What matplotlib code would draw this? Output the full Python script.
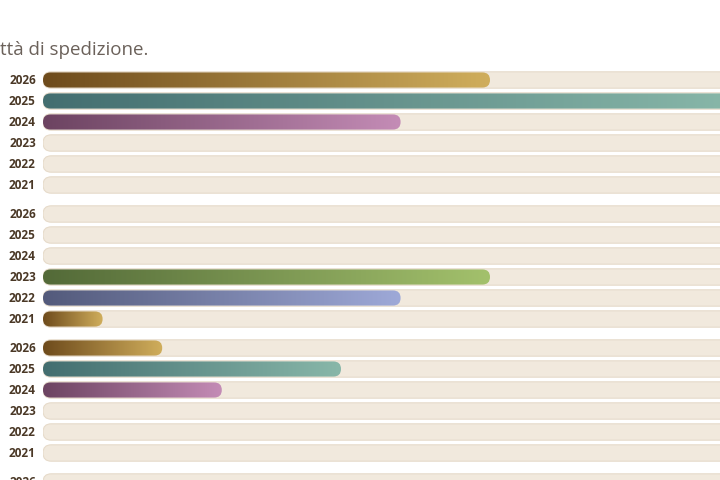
import numpy as np
import matplotlib.pyplot as plt
from matplotlib.patches import FancyBboxPatch
from matplotlib.colors import LinearSegmentedColormap

plt.rcParams['font.family'] = ['Open Sans', 'DejaVu Sans']

# data (rows of each group, top to bottom)
years = ["2026", "2025", "2024", "2023", "2022", "2021"]
group1 = [7.5, 11.6, 6.0, 0, 0, 0]
group2 = [0, 0, 0, 7.5, 6.0, 1.0]
group3 = [2.0, 5.0, 3.0, 0, 0, 0]
group4 = [0, 0, 0, 0, 0, 0]
groups = [group1, group2, group3, group4]
subtitle = "ttà di spedizione."

# gradient colours per year (dark -> light)
year_colors = {
    "2026": ("#6e4b1c", "#d0ae5c"),
    "2025": ("#436e70", "#88b7a9"),
    "2024": ("#6c4361", "#c48cb6"),
    "2023": ("#536a38", "#a3c16c"),
    "2022": ("#535a7b", "#9ea9d8"),
    "2021": ("#6e4b1c", "#d0ae5c"),
}
track_max = 13
row_gap = 8 / 21      # extra space between groups, in rows
bar_h = 0.72
track_h = 0.78

fig = plt.figure(figsize=(7.2, 4.8), dpi=100)
ax = fig.add_axes([43 / 720, 0, 677 / 720, 1])
ax.axis('off')

# aspect for round caps: x px per unit / y px per unit
aspect = 59.6 / 21


def rounded(x, y, w, h, **kw):
    r = h / 2 / aspect
    return FancyBboxPatch((x, y - h / 2), w, h,
                          boxstyle=f"round,pad=0,rounding_size={r}",
                          mutation_aspect=aspect, **kw)


grad = np.linspace(0, 1, 256).reshape(1, -1)
for g, vals in enumerate(groups):
    for r, (yr, v) in enumerate(zip(years, vals)):
        y = g * (6 + row_gap) + r
        track = rounded(0, y, track_max, track_h, facecolor="#f1e9dd",
                        edgecolor="#e6dbca", linewidth=0.8, zorder=1)
        ax.add_patch(track)
        ax.text(-0.12, y, yr, ha='right', va='center', fontsize=8.5,
                fontweight='bold', color="#4a3826", clip_on=False)
        if v > 0:
            c0, c1 = year_colors[yr]
            cmap = LinearSegmentedColormap.from_list("g", [c0, c1])
            clip = rounded(0, y, v, bar_h, facecolor='none', edgecolor='none')
            ax.add_patch(clip)
            im = ax.imshow(grad, cmap=cmap, aspect='auto', zorder=2,
                           extent=(0, v, y + bar_h / 2, y - bar_h / 2))
            im.set_clip_path(clip)

ax.set_xlim(0, 677 / 59.6)
ax.set_ylim((480 - 80) / 21, -80 / 21)

fig.text(0.0, 1 - 55 / 480, subtitle, ha='left', va='baseline',
         fontsize=13.5, color="#6b615a")

fig.savefig("out.png", dpi=100)
